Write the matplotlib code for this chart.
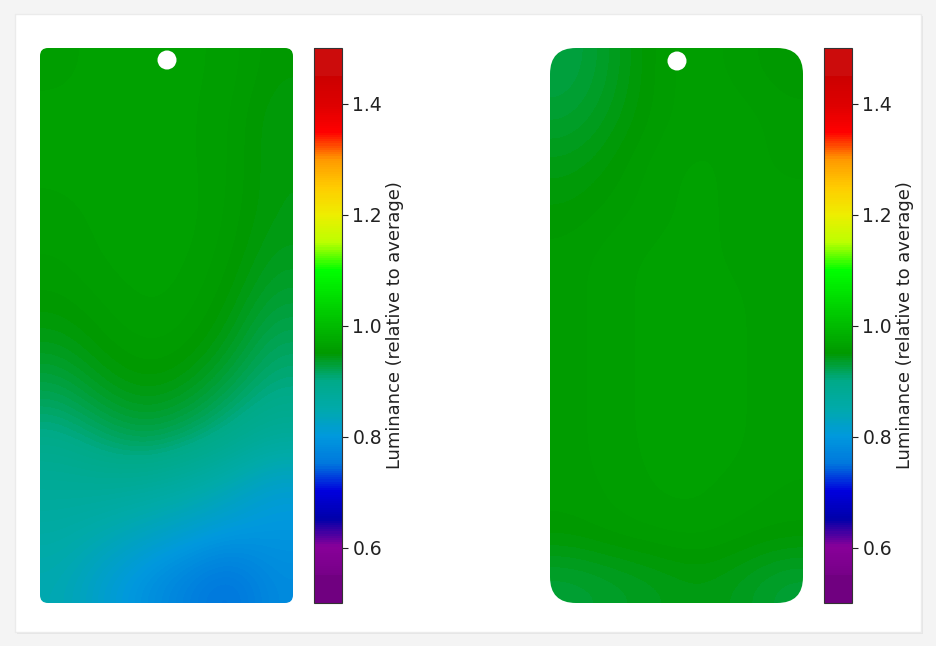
import numpy as np
import matplotlib
matplotlib.use("Agg")
import matplotlib.pyplot as plt
from matplotlib.colors import ListedColormap
from matplotlib.patches import FancyBboxPatch, Circle, Rectangle

# luminance relative to average, coarse grid (rows top -> bottom)
left_lum = np.array([
    [0.960, 0.962, 0.962, 0.962, 0.960, 0.950],
    [0.962, 0.962, 0.963, 0.962, 0.958, 0.945],
    [0.962, 0.963, 0.963, 0.962, 0.958, 0.945],
    [0.960, 0.962, 0.965, 0.963, 0.957, 0.945],
    [0.957, 0.962, 0.963, 0.962, 0.955, 0.940],
    [0.952, 0.958, 0.962, 0.960, 0.950, 0.930],
    [0.940, 0.952, 0.958, 0.955, 0.940, 0.915],
    [0.920, 0.938, 0.947, 0.940, 0.920, 0.900],
    [0.895, 0.910, 0.922, 0.910, 0.893, 0.872],
    [0.875, 0.877, 0.872, 0.860, 0.840, 0.812],
    [0.860, 0.847, 0.830, 0.815, 0.800, 0.795],
    [0.845, 0.815, 0.788, 0.765, 0.742, 0.780],
])

right_lum = np.array([
    [0.925, 0.938, 0.955, 0.960, 0.955, 0.950],
    [0.932, 0.943, 0.955, 0.960, 0.960, 0.955],
    [0.943, 0.950, 0.960, 0.962, 0.960, 0.955],
    [0.950, 0.955, 0.960, 0.962, 0.960, 0.960],
    [0.955, 0.960, 0.962, 0.962, 0.960, 0.958],
    [0.955, 0.960, 0.962, 0.962, 0.962, 0.958],
    [0.955, 0.960, 0.962, 0.962, 0.962, 0.958],
    [0.955, 0.960, 0.962, 0.962, 0.962, 0.958],
    [0.955, 0.960, 0.962, 0.962, 0.962, 0.958],
    [0.955, 0.958, 0.962, 0.962, 0.960, 0.957],
    [0.952, 0.956, 0.958, 0.960, 0.956, 0.953],
    [0.930, 0.935, 0.940, 0.945, 0.940, 0.930],
])

cbar_ticks = [0.6, 0.8, 1.0, 1.2, 1.4]
vmin, vmax = 0.5, 1.5

cmap = ListedColormap(plt.cm.nipy_spectral(np.clip(np.linspace(0, 1, 256), 0.05, 0.95)))

W, H = 937, 646
fig = plt.figure(figsize=(W / 100, H / 100), dpi=100)
fig.patch.set_facecolor("#f4f4f4")

# white card with a soft shadow
fig.patches.append(Rectangle((17 / W, 12 / H), 906 / W, 618 / H, transform=fig.transFigure,
                             facecolor="#e6e6e6", edgecolor="none", zorder=-2))
fig.patches.append(Rectangle((15 / W, 14 / H), 906 / W, 618 / H, transform=fig.transFigure,
                             facecolor="white", edgecolor="#ebebeb", lw=1, zorder=-1))


def px_box(x0, y0, x1, y1):
    return [x0 / W, (H - y1) / H, (x1 - x0) / W, (y1 - y0) / H]


def phone(ax, lum, rounding, cam):
    pw, ph = 253, 555
    ax.patch.set_alpha(0)
    im = ax.imshow(lum, cmap=cmap, vmin=vmin, vmax=vmax, interpolation="bicubic",
                   extent=(0, pw, ph, 0), aspect="auto")
    clip = FancyBboxPatch((0, 0), pw, ph, boxstyle=f"round,pad=0,rounding_size={rounding}",
                          transform=ax.transData, facecolor="none", edgecolor="none")
    ax.add_patch(clip)
    im.set_clip_path(clip)
    ax.add_patch(Circle(cam, 9.5, facecolor="white", edgecolor="none", zorder=3))
    ax.set_xlim(0, pw)
    ax.set_ylim(ph, 0)
    ax.axis("off")
    return im


ax1 = fig.add_axes(px_box(40, 48, 293, 603))
im1 = phone(ax1, left_lum, 8, (127, 12))
cax1 = fig.add_axes(px_box(314, 48, 342, 603))

ax2 = fig.add_axes(px_box(550, 48, 803, 603))
im2 = phone(ax2, right_lum, 26, (127, 13))
cax2 = fig.add_axes(px_box(824, 48, 852, 603))

for im, cax in [(im1, cax1), (im2, cax2)]:
    cb = fig.colorbar(im, cax=cax, ticks=cbar_ticks)
    cb.ax.tick_params(labelsize=13.5, length=4, colors="#222222")
    cb.set_label("Luminance (relative to average)", fontsize=12.9, labelpad=3, color="#222222")
    cb.outline.set_linewidth(0.8)
    cb.outline.set_edgecolor("#333333")

plt.savefig("out.png", dpi=100, facecolor=fig.get_facecolor())
